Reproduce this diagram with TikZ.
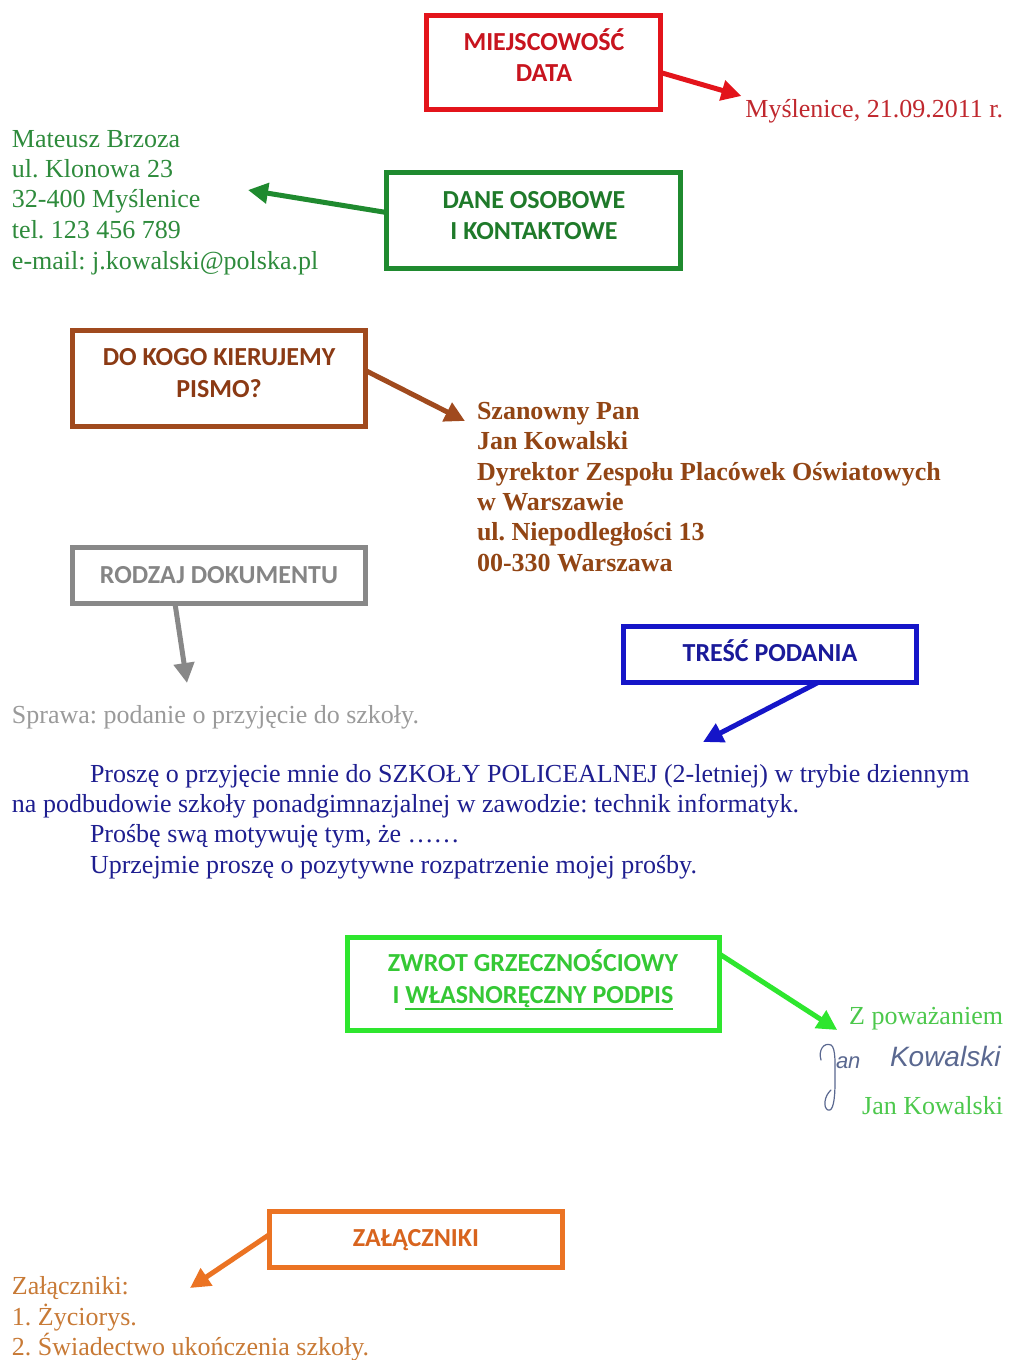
\documentclass[tikz,border=0pt]{standalone}
\usepackage{fontspec}
\setmainfont{Liberation Serif}
\newfontfamily\boxfont{Carlito}
\newfontfamily\handfont{Liberation Sans}
\usetikzlibrary{arrows.meta,calc}
\newcommand\myul[1]{\setbox0\hbox{#1}\rlap{\rule[-7pt]{\wd0}{2pt}}\box0}
\definecolor{cRed}{HTML}{E3141B}
\definecolor{cRedT}{HTML}{C8141E}
\definecolor{cDate}{HTML}{C0282E}
\definecolor{cGreen}{HTML}{1F8A2F}
\definecolor{cGreenT}{HTML}{1F7A2A}
\definecolor{cGreenTxt}{HTML}{2E8B3C}
\definecolor{cBrown}{HTML}{A04A1E}
\definecolor{cBrownT}{HTML}{8B3A14}
\definecolor{cBrownTxt}{HTML}{924514}
\definecolor{cGray}{HTML}{888888}
\definecolor{cGrayT}{HTML}{858585}
\definecolor{cGrayTxt}{HTML}{9A9A9A}
\definecolor{cBlue}{HTML}{1515C8}
\definecolor{cBlueT}{HTML}{1A1A9A}
\definecolor{cBlueTxt}{HTML}{1E1E90}
\definecolor{cLime}{HTML}{2EE62E}
\definecolor{cLimeT}{HTML}{35C835}
\definecolor{cLimeTxt}{HTML}{4CC84C}
\definecolor{cOrange}{HTML}{EB7323}
\definecolor{cOrangeT}{HTML}{D8641E}
\definecolor{cOrangeTxt}{HTML}{C87A36}
\definecolor{cSig}{HTML}{5A6890}
\frenchspacing
\begin{document}
\begin{tikzpicture}[x=1pt,y=-1pt,
  every node/.style={inner sep=0pt, outer sep=0pt},
  frame/.style={draw=#1, line width=5pt, fill=white},
  lbl/.style={font=\boxfont\bfseries\fontsize{26}{31}\selectfont, anchor=base, text=#1},
  txt/.style={font=\fontsize{26}{31}\selectfont, anchor=base west, text=#1},
  rtxt/.style={font=\fontsize{26}{31}\selectfont, anchor=base east, text=#1},
  btxt/.style={font=\bfseries\fontsize{26}{31}\selectfont, anchor=base west, text=#1},
  arr/.style={draw=#1, line width=5pt, -{Triangle[length=20pt,width=20pt]}},
  sig/.style={draw=cSig, line width=1.2pt, line cap=round, line join=round},
  hand/.style={font=\handfont\itshape\fontsize{#1}{#1}\selectfont, text=cSig, anchor=base west},
]
\fill[white] (0,0) rectangle (1009,1360);
\useasboundingbox (0,0) rectangle (1009,1360);

% ---- MIEJSCOWOSC DATA
\node[frame=cRed, minimum width=234pt, minimum height=94pt] (b1) at (543.5,62.5) {};
\node[lbl=cRedT] (b1a) at (544,50) {MIEJSCOWOŚĆ};
\node[lbl=cRedT] (b1b) at (544,81) {DATA};
\node[rtxt=cDate] (date) at (1003,117) {Myślenice, 21.09.2011 r.};
\draw[arr=cRed] ([shift={(0,10)}]b1.east) -- ([shift={(-4,-21)}]date.base west);

% ---- DANE OSOBOWE
\node[frame=cGreen, minimum width=294pt, minimum height=96pt] (b2) at (533.5,220.5) {};
\node[lbl=cGreenT] (b2a) at (534,208) {DANE OSOBOWE};
\node[lbl=cGreenT] (b2b) at (534,239) {I KONTAKTOWE};
\node[txt=cGreenTxt] (g1) at (12,147) {Mateusz Brzoza};
\node[txt=cGreenTxt] (g2) at (12,177) {ul. Klonowa 23};
\node[txt=cGreenTxt] (g3) at (12,207) {32-400 Myślenice};
\node[txt=cGreenTxt] (g4) at (12,238) {tel. 123 456 789};
\node[txt=cGreenTxt] (g5) at (12,269) {e-mail: j.kowalski@polska.pl};
\draw[arr=cGreen] ([shift={(0,-8)}]b2.west) -- ([shift={(236,-17)}]g3.base west);

% ---- DO KOGO KIERUJEMY PISMO?
\node[frame=cBrown, minimum width=293pt, minimum height=96pt] (b3) at (219,378.5) {};
\node[lbl=cBrownT] (b3a) at (219,365) {DO KOGO KIERUJEMY};
\node[lbl=cBrownT] (b3b) at (219,397) {PISMO?};
\node[btxt=cBrownTxt] (r1) at (477,419) {Szanowny Pan};
\node[btxt=cBrownTxt] (r2) at (477,449) {Jan Kowalski};
\node[btxt=cBrownTxt] (r3) at (477,480) {Dyrektor Zespołu Placówek Oświatowych};
\node[btxt=cBrownTxt] (r4) at (477,510) {w Warszawie};
\node[btxt=cBrownTxt] (r5) at (477,540) {ul. Niepodległości 13};
\node[btxt=cBrownTxt] (r6) at (477,571) {00-330 Warszawa};
\draw[arr=cBrown] ([shift={(0,-8)}]b3.east) -- ([shift={(-12,2)}]r1.base west);

% ---- RODZAJ DOKUMENTU
\node[frame=cGray, minimum width=293pt, minimum height=56pt] (b4) at (219,575.5) {};
\node[lbl=cGrayT] (b4a) at (219,583) {RODZAJ DOKUMENTU};
\node[txt=cGrayTxt] (spr) at (12,723) {Sprawa: podanie o przyjęcie do szkoły.};
\draw[arr=cGray] ([shift={(-44,0)}]b4.south) -- ([shift={(175,-40)}]spr.base west);

% ---- TRESC PODANIA
\node[frame=cBlue, minimum width=293pt, minimum height=56pt] (b5) at (770,654.5) {};
\node[lbl=cBlueT] (b5a) at (770,661) {TREŚĆ PODANIA};
\node[txt=cBlueTxt] (p1) at (90,782) {Proszę o przyjęcie mnie do SZKOŁY POLICEALNEJ (2-letniej) w trybie dziennym};
\node[txt=cBlueTxt] (p2) at (12,812) {na podbudowie szkoły ponadgimnazjalnej w zawodzie: technik informatyk.};
\node[txt=cBlueTxt] (p3) at (90,842) {Prośbę swą motywuję tym, że ……};
\node[txt=cBlueTxt] (p4) at (90,873) {Uprzejmie proszę o pozytywne rozpatrzenie mojej prośby.};
\draw[arr=cBlue] ([shift={(48,0)}]b5.south) -- ([shift={(613,-40)}]p1.base west);

% ---- ZWROT GRZECZNOSCIOWY
\node[frame=cLime, minimum width=372pt, minimum height=93pt] (b6) at (533.5,984) {};
\node[lbl=cLimeT] (b6a) at (533,971) {ZWROT GRZECZNOŚCIOWY};
\node[lbl=cLimeT] (b6b) at (533,1003) {I \myul{WŁASNORĘCZNY PODPIS}};
\node[rtxt=cLimeTxt] (zp) at (1003,1024) {Z poważaniem};
\node[rtxt=cLimeTxt] (jk) at (1003,1114) {Jan Kowalski};
\draw[arr=cLime] ([shift={(0,-30)}]b6.east) -- ([shift={(-12,6)}]zp.base west);
% signature
\draw[sig] (821,1060) .. controls (818,1050) and (824,1042) .. (831,1045)
  .. controls (836,1048) and (835,1065) .. (835,1082)
  .. controls (835,1100) and (833,1112) .. (828,1110)
  .. controls (823,1108) and (824,1096) .. (831,1090);
\node[hand=22] (sigan) at (836,1068) {an};
\node[hand=28] (sigk) at (890,1066) {Kowalski};

% ---- ZALACZNIKI
\node[frame=cOrange, minimum width=293pt, minimum height=56pt] (b7) at (416,1239.5) {};
\node[lbl=cOrangeT] (b7a) at (416,1246) {ZAŁĄCZNIKI};
\node[txt=cOrangeTxt] (z1) at (12,1294) {Załączniki:};
\node[txt=cOrangeTxt] (z2) at (12,1325) {1. Życiorys.};
\node[txt=cOrangeTxt] (z3) at (12,1355) {2. Świadectwo ukończenia szkoły.};
\draw[arr=cOrange] ([shift={(0,-5)}]b7.west) -- ([shift={(178,-6)}]z1.base west);
\end{tikzpicture}
\end{document}
